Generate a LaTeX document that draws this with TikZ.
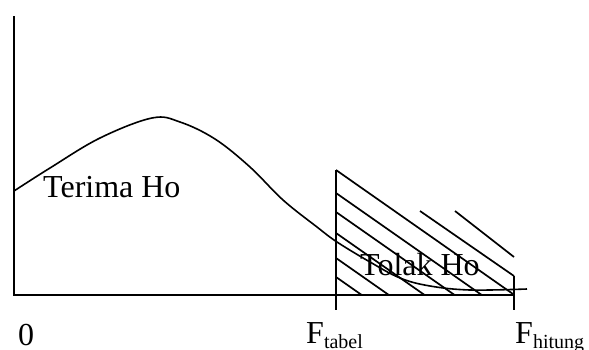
\documentclass[tikz,border=0pt]{standalone}
\usepackage{fontspec}
\setmainfont{Liberation Serif}
\usepackage{tikz}
\usetikzlibrary{positioning, calc}
\newcommand{\Fsub}[1]{F\raisebox{-5pt}{\fontsize{20}{20}\selectfont #1}}

\begin{document}
\begin{tikzpicture}[
    x=1pt, y=-1pt,
    axisline/.style={line width=1.8pt, black},
    curveline/.style={line width=1.6pt, black},
    hatchline/.style={line width=1.7pt, black},
    lbl/.style={font=\fontsize{32}{36}\selectfont, inner sep=0pt, anchor=base west},
]
    \useasboundingbox (0,0) rectangle (589,349);
    % axes
    \coordinate (ytop) at (14,16);
    \coordinate (origin) at (14,295);
    \coordinate (xend) at (514,295);
    \draw[axisline] (ytop) -- (origin) -- (xend);
    % rejection region
    \coordinate (ttop) at (336,170);
    \coordinate (tbot) at (336,310);
    \coordinate (htop) at (514,276);
    \coordinate (hbot) at (514,310);
    \draw[hatchline] (ttop) -- (tbot);
    \draw[hatchline] (htop) -- (hbot);
    \draw[hatchline] (ttop) -- (513,294);
    \foreach \y in {193,212,233,258,277}
        \draw[hatchline] (336,\y) -- ++({(295-\y)/0.7},{295-\y});
    \draw[hatchline] (420,211) -- (htop);
    \draw[hatchline] (455,211) -- (514,257);
    % density curve
    \draw[curveline] plot[smooth, tension=0.6] coordinates {
        (14,191) (50,168) (100,138) (152,118) (180,122) (215,139)
        (250,167) (283,200) (317,227) (337,242) (370,262) (400,278)
        (430,286) (470,290) (527,289)};
    % labels
    \node[lbl] (terima) at (43,197) {Terima Ho};
    \node[lbl] (tolak) at (360,275) {Tolak Ho};
    \node[lbl] (zero) at (18,345) {0};
    \node[lbl] (ftabel) at (306,343) {\Fsub{tabel}};
    \node[lbl] (fhitung) at (515,343) {\Fsub{hitung}};
\end{tikzpicture}
\end{document}
